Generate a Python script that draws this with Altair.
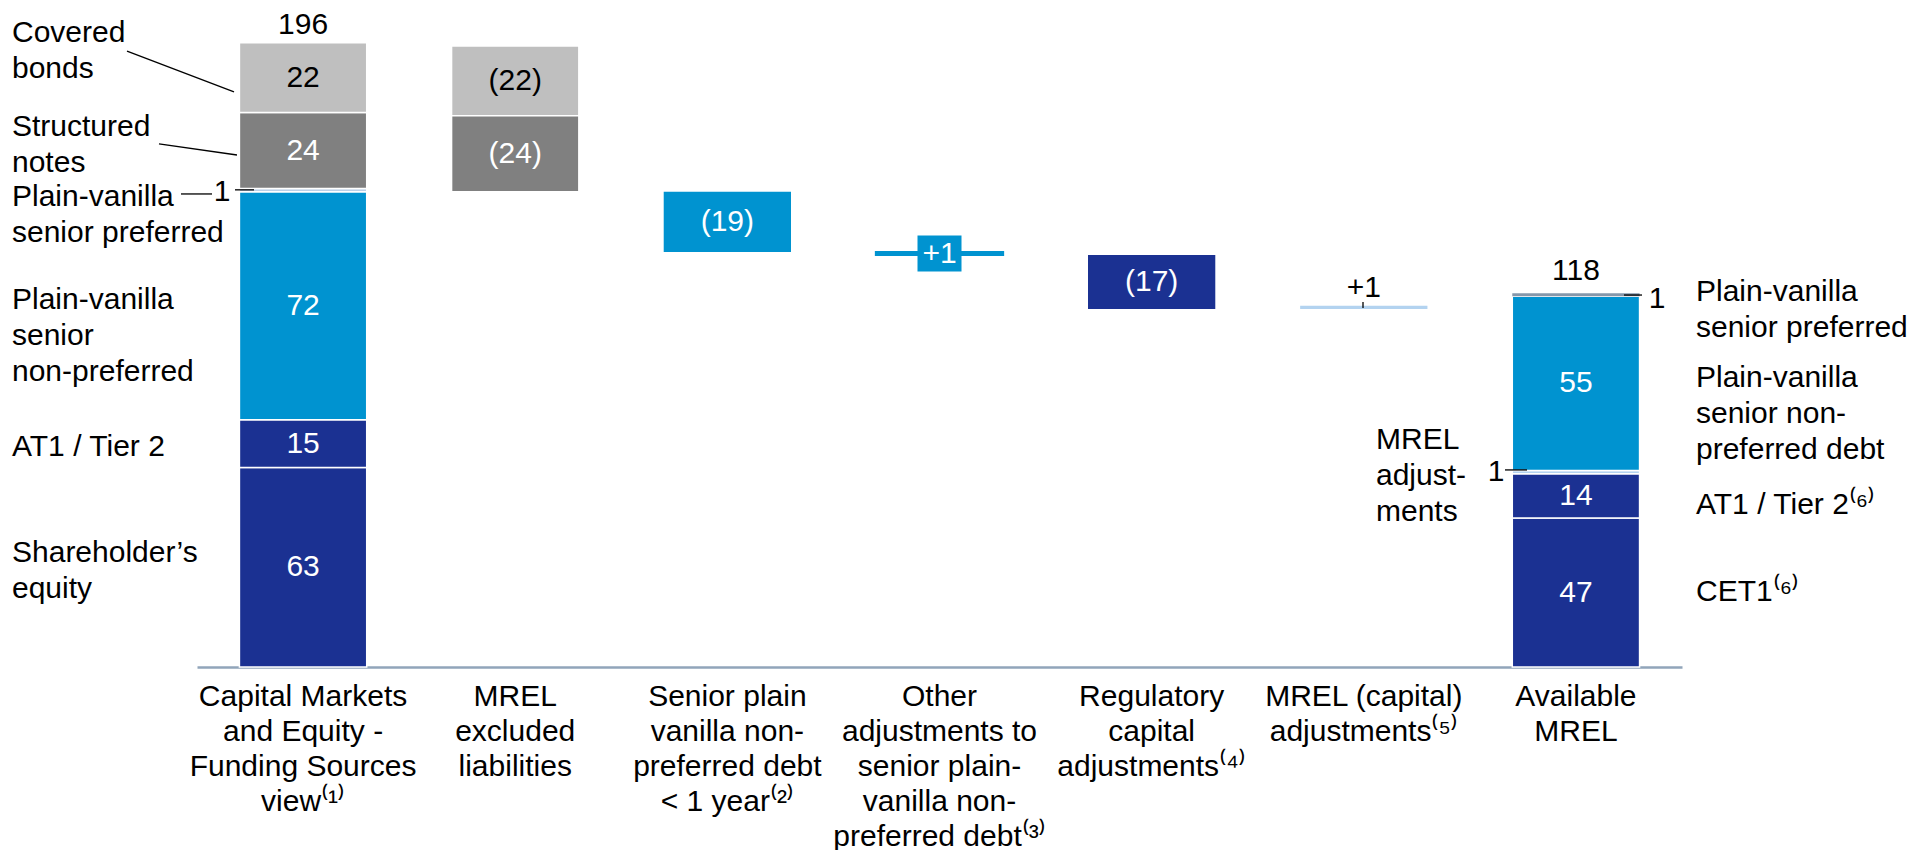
import altair as alt
import pandas as pd

FONT = "Liberation Sans"

# ---------------- data ----------------
categories = [
    "Capital Markets|and Equity -|Funding Sources|view⁽¹⁾",
    "MREL|excluded|liabilities",
    "Senior plain|vanilla non-|preferred debt|< 1 year⁽²⁾",
    "Other|adjustments to|senior plain-|vanilla non-|preferred debt⁽³⁾",
    "Regulatory|capital|adjustments⁽⁴⁾",
    "MREL (capital)|adjustments⁽⁵⁾",
    "Available|MREL",
]

# first column, stacked bottom-up
funding_segments = ["equity", "at1", "snp", "sp", "structured", "covered"]
funding_values = [63, 15, 72, 1, 24, 22]
funding_total = 196

# MREL excluded liabilities, from top down
excluded_segments = ["covered", "structured"]
excluded_values = [-22, -24]

# bridge steps: value and level they start from (as drawn)
bridge_values = [-19, 1, -17, 1]
bridge_start = [150, 130, 130, 113]
bridge_kind = ["snp", "snp", "equity", "mrel_adj"]

# available MREL, stacked bottom-up
available_segments = ["equity", "at1", "mrel_adj", "snp", "sp_final"]
available_values = [47, 14, 1, 55, 1]
available_total = 118

colors = {
    "equity": "#1B3192",
    "at1": "#1B3192",
    "snp": "#0093D0",
    "sp": "#BCD0E8",
    "sp_final": "#8597AA",
    "structured": "#808080",
    "covered": "#BFBFBF",
    "mrel_adj": "#B3D3F0",
}
dark_text = {"covered"}

# ---------------- build segment table ----------------
rows = []


def fmt(v):
    return f"({abs(v)})" if v < 0 else str(v)


level = 0
for seg, v in zip(funding_segments, funding_values):
    rows.append(dict(cat=categories[0], low=level, high=level + v, kind=seg,
                     label=fmt(v) if v > 1 else ""))
    level += v

level = funding_total
for seg, v in zip(excluded_segments, excluded_values):
    rows.append(dict(cat=categories[1], low=level + v, high=level, kind=seg, label=fmt(v)))
    level += v

for i, (v, s, k) in enumerate(zip(bridge_values, bridge_start, bridge_kind)):
    lab = fmt(v) if v < 0 else ""
    rows.append(dict(cat=categories[2 + i], low=min(s, s + v), high=max(s, s + v), kind=k, label=lab))

level = 0
for seg, v in zip(available_segments, available_values):
    rows.append(dict(cat=categories[6], low=level, high=level + v, kind=seg,
                     label=fmt(v) if v > 1 else ""))
    level += v

df = pd.DataFrame(rows)
df["color"] = df["kind"].map(colors)
df["mid"] = (df["low"] + df["high"]) / 2
df["tcolor"] = df["kind"].apply(lambda k: "#000000" if k in dark_text else "#FFFFFF")
single = {categories[2], categories[4], categories[5]}
df["stroke"] = "#FFFFFF"
df["sw"] = 1.5
df.loc[df["cat"].isin(single), "sw"] = 0
df.loc[df["kind"] == "sp_final", "sw"] = 0
df.loc[df["cat"] == categories[3], "stroke"] = colors["snp"]
df.loc[df["cat"] == categories[3], "sw"] = 2

plus_box = df[df["cat"] == categories[3]].copy()
plus_box["label"] = "+1"

totals = pd.DataFrame([
    dict(cat=categories[0], y=202.6, label=str(funding_total)),
    dict(cat=categories[6], y=125.0, label=str(available_total)),
    dict(cat=categories[5], y=119.5, label="+1"),
])

# side annotations (x in pixels, y = first text line, in chart units)
notes = pd.DataFrame([
    dict(px=-185, y=200.1, t="Covered\nbonds", a="left"),
    dict(px=-185, y=170.5, t="Structured\nnotes", a="left"),
    dict(px=-185, y=148.4, t="Plain-vanilla\nsenior preferred", a="left"),
    dict(px=-185, y=115.8, t="Plain-vanilla\nsenior\nnon-preferred", a="left"),
    dict(px=-185, y=69.4, t="AT1 / Tier 2", a="left"),
    dict(px=-185, y=36.0, t="Shareholder’s\nequity", a="left"),
    dict(px=1499, y=118.4, t="Plain-vanilla\nsenior preferred", a="left"),
    dict(px=1499, y=91.2, t="Plain-vanilla\nsenior non-\npreferred debt", a="left"),
    dict(px=1499, y=51.1, t="AT1 / Tier 2⁽⁶⁾", a="left"),
    dict(px=1499, y=23.7, t="CET1⁽⁶⁾", a="left"),
    dict(px=1179, y=71.7, t="MREL\nadjust-\nments", a="left"),
    dict(px=25, y=149.8, t="1", a="center"),
    dict(px=1460, y=116.2, t="1", a="center"),
    dict(px=1299, y=61.6, t="1", a="center"),
])

leaders = pd.DataFrame([
    dict(x1=-70, x2=37, y1=194.4, y2=181.5),
    dict(x1=-38, x2=40, y1=165.1, y2=161.6),
    dict(x1=-16, x2=15, y1=149.3, y2=149.3),
    dict(x1=38, x2=57, y1=150.6, y2=150.6),
    dict(x1=1427, x2=1445, y1=117.4, y2=117.4),
    dict(x1=1308, x2=1330, y1=62.2, y2=62.2),
    dict(x1=1166, x2=1166, y1=115.2, y2=113.3),
])

# ---------------- chart ----------------
yscale = alt.Scale(domain=[0, 196], nice=False, zero=False)


def X(axis=None):
    return alt.X("cat:N", sort=categories,
                 scale=alt.Scale(type="band", domain=categories, paddingInner=0.4, paddingOuter=0.2),
                 axis=axis, title=None)


x_axis = alt.Axis(labelAngle=0, labelExpr="split(datum.label, '|')", labelFont=FONT,
                  labelFontSize=30, labelLineHeight=35, labelColor="#000000",
                  labelPadding=14, labelLimit=0, labelOverlap=False, labelBaseline="top",
                  ticks=False, tickSize=0, domainColor="#91A5BA", domainWidth=2.5,
                  labelFlush=False, title=None)

bars = alt.Chart(df).mark_bar().encode(
    x=X(x_axis),
    y=alt.Y("low:Q", scale=yscale, axis=None),
    y2="high:Q",
    color=alt.Color("color:N", scale=None),
    stroke=alt.Stroke("stroke:N", scale=None),
    strokeWidth=alt.StrokeWidth("sw:Q", scale=None),
)

seg_text = alt.Chart(df).mark_text(font=FONT, fontSize=30, baseline="middle").encode(
    x=X(),
    y=alt.Y("mid:Q", scale=yscale, axis=None),
    text="label:N",
    color=alt.Color("tcolor:N", scale=None),
)

box = alt.Chart(plus_box).mark_point(
    shape="M-1,-0.818L1,-0.818L1,0.818L-1,0.818Z", filled=True, opacity=1,
    size=1936, color=colors["snp"], strokeWidth=0,
).encode(x=X(), y=alt.Y("mid:Q", scale=yscale, axis=None))

box_text = alt.Chart(plus_box).mark_text(font=FONT, fontSize=30, baseline="middle", color="#FFFFFF").encode(
    x=X(), y=alt.Y("mid:Q", scale=yscale, axis=None), text="label:N")

total_text = alt.Chart(totals).mark_text(font=FONT, fontSize=30, baseline="middle", color="#000000").encode(
    x=X(), y=alt.Y("y:Q", scale=yscale, axis=None), text="label:N")

note_left = alt.Chart(notes[notes["a"] == "left"]).mark_text(
    font=FONT, fontSize=30, baseline="middle", align="left", lineBreak="\n",
    lineHeight=36, color="#000000").encode(
    x=alt.X("px:Q", scale=None), y=alt.Y("y:Q", scale=yscale, axis=None), text="t:N")

note_center = alt.Chart(notes[notes["a"] == "center"]).mark_text(
    font=FONT, fontSize=30, baseline="middle", align="center", color="#000000").encode(
    x=alt.X("px:Q", scale=None), y=alt.Y("y:Q", scale=yscale, axis=None), text="t:N")

lead = alt.Chart(leaders).mark_rule(color="#000000", strokeWidth=1.3).encode(
    x=alt.X("x1:Q", scale=None), x2="x2:Q",
    y=alt.Y("y1:Q", scale=yscale, axis=None), y2="y2:Q")

chart = alt.layer(
    bars, seg_text, box, box_text, total_text, lead, note_left, note_center
).resolve_scale(x="independent").properties(
    width=1485, height=621,
    padding={"left": 189, "top": 38, "right": 230, "bottom": 183},
    autosize=alt.AutoSizeParams(type="none"),
    background="#FFFFFF",
).configure_view(stroke=None)

chart.save("out.html", embed_options={"renderer": "svg", "actions": False})
